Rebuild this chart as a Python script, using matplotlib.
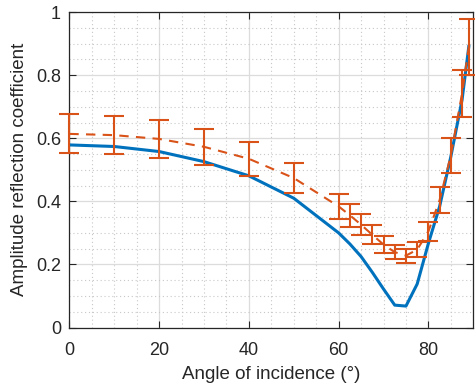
import matplotlib
matplotlib.use("Agg")
import matplotlib.pyplot as plt
from matplotlib.ticker import MultipleLocator

plt.rcParams["font.family"] = ["Liberation Sans", "DejaVu Sans"]

# theory curve
theory_angle = [0, 10, 20, 30, 40, 50, 60, 62.5, 65, 67.5, 70, 72.5, 75, 77.5, 80, 82.5, 85, 87.5, 89]
theory_r = [0.579, 0.574, 0.558, 0.526, 0.481, 0.410, 0.300, 0.265, 0.225, 0.175, 0.122, 0.071, 0.068,
            0.138, 0.267, 0.384, 0.542, 0.722, 0.891]

# measured with error bars
meas_angle = [0, 10, 20, 30, 40, 50, 60, 62.5, 65, 67.5, 70, 72.5, 75, 77.5, 80, 82.5, 85, 87.5, 89]
meas_r = [0.614, 0.610, 0.598, 0.573, 0.535, 0.474, 0.384, 0.356, 0.326, 0.294, 0.263, 0.239, 0.228,
          0.247, 0.305, 0.404, 0.546, 0.742, 0.890]
meas_err = [0.062, 0.061, 0.061, 0.057, 0.053, 0.048, 0.040, 0.036, 0.033, 0.030, 0.027, 0.022, 0.022,
            0.024, 0.030, 0.040, 0.055, 0.075, 0.088]

blue = "#0072BD"
orange = "#D95319"
dark = "#262626"

fig = plt.figure(figsize=(4.75, 3.92), dpi=100)
ax = fig.add_axes([0.146, 0.1645, 0.8504, 0.8045])

ax.plot(theory_angle, theory_r, color=blue, lw=2.2, zorder=3)
eb = ax.errorbar(meas_angle, meas_r, yerr=meas_err, color=orange, lw=1.5, elinewidth=1.5,
                 capsize=7, capthick=1.5, dashes=(4.5, 3.5), zorder=4)
for art in eb.lines[1] + eb.lines[2]:
    art.set_clip_on(False)
for art in eb.lines[2]:
    art.set_clip_on(False)

ax.set_xlim(0, 90)
ax.set_ylim(0, 1)
ax.xaxis.set_major_locator(MultipleLocator(20))
ax.xaxis.set_minor_locator(MultipleLocator(5))
ax.yaxis.set_minor_locator(MultipleLocator(0.05))
ax.set_yticks([0, 0.2, 0.4, 0.6, 0.8, 1])
ax.set_yticklabels(["0", "0.2", "0.4", "0.6", "0.8", "1"])

ax.grid(True, which="major", color="#dcdcdc", lw=0.9)
ax.grid(True, which="minor", color="#c8c8c8", lw=0.8, ls=(0, (1, 2.5)))
ax.set_axisbelow(True)

ax.tick_params(which="major", direction="in", top=True, right=True, length=5, width=0.8,
               labelsize=13, colors=dark)
ax.tick_params(axis="x", which="major", pad=10.5)
ax.tick_params(axis="y", which="major", pad=6)
ax.tick_params(which="minor", length=0, top=True, right=True)
for s in ax.spines.values():
    s.set_color(dark)
    s.set_linewidth(0.9)

ax.set_xlabel("Angle of incidence (°)", fontsize=13.5, color=dark, labelpad=5)
ax.set_ylabel("Amplitude reflection coefficient", fontsize=13.5, color=dark, labelpad=6)

fig.savefig("out.png", dpi=100)
